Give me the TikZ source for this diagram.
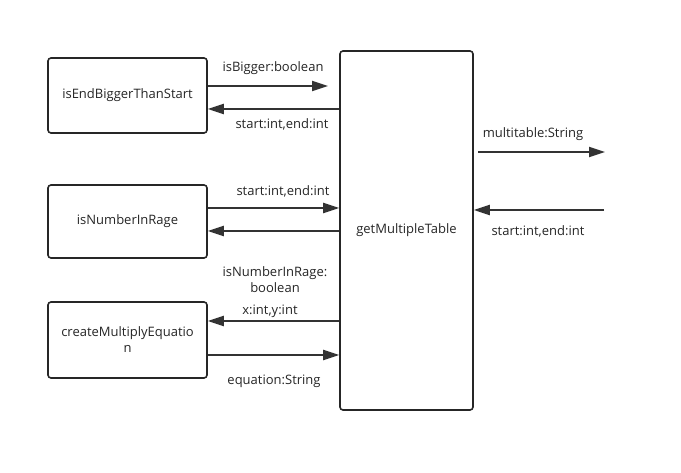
\documentclass[tikz,border=0pt]{standalone}
\usepackage{fontspec}
\setmainfont{Open Sans}
\usetikzlibrary{arrows.meta}
\begin{document}
\begin{tikzpicture}[x=1pt,y=-1pt,
  box/.style={draw=black!85,line width=1.6pt,rounded corners=3pt},
  lbl/.style={font=\fontsize{13}{16}\selectfont,text=black!85,inner sep=0pt,align=center},
  conn/.style={draw=black!80,line width=2pt,-{Triangle[length=16pt,width=10pt]}}]
\useasboundingbox (0,0) rectangle (681,473);
\fill[white] (0,0) rectangle (681,473);
\node[box,minimum width=159pt,minimum height=75pt,lbl] (a) at (127.5,95.5) {isEndBiggerThanStart};
\node[box,minimum width=159pt,minimum height=73pt,lbl] (b) at (127.5,221.5) {isNumberInRage};
\node[box,minimum width=159pt,minimum height=76pt,lbl] (c) at (127.5,340) {createMultiplyEquatio\\n};
\node[box,minimum width=133pt,minimum height=359pt,lbl] (g) at (406.5,230.5) {getMultipleTable};
% coordinates on the right of main box
\coordinate (o1) at (605,152);
\coordinate (i1) at (604,210);
% arrows
\draw[conn] (a.east |- 0,86) -- (328,86) coordinate (t1);
\node[lbl] at (273,68) {isBigger:boolean};
\draw[conn] (g.west |- 0,109) -- (a.east |- 0,109);
\node[lbl] at (282,124) {start:int,end:int};
\draw[conn] (b.east |- 0,208) -- (g.west |- 0,208);
\node[lbl] at (283,191) {start:int,end:int};
\draw[conn] (g.west |- 0,231) -- (b.east |- 0,231);
\node[lbl] at (275,280) {isNumberInRage:\\boolean};
\draw[conn] (g.west |- 0,321) -- (c.east |- 0,321);
\node[lbl] at (270,311) {x:int,y:int};
\draw[conn] (c.east |- 0,355) -- (g.west |- 0,355);
\node[lbl] at (274,381) {equation:String};
\draw[conn] (478,152) -- (o1);
\node[lbl] at (533,134) {multitable:String};
\draw[conn] (i1) -- (g.east |- i1);
\node[lbl] at (538,231) {start:int,end:int};
\end{tikzpicture}
\end{document}
